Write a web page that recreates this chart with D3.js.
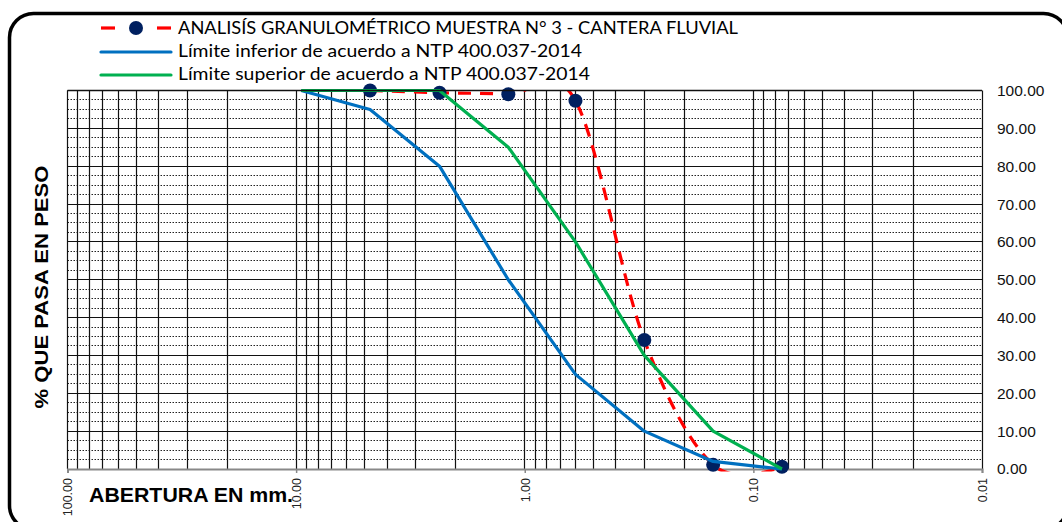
<!DOCTYPE html>
<html>
<head>
<meta charset="utf-8">
<script src="https://cdn.jsdelivr.net/npm/d3@7"></script>
<style>
  html, body { margin: 0; padding: 0; background: #fff; overflow: hidden; }
  svg { display: block; }
</style>
</head>
<body>
<svg id="chart" width="1062" height="522"></svg>
<script>
// ---- data ----
const sieveSizes = [9.5, 4.75, 2.36, 1.18, 0.6, 0.3, 0.15, 0.075];
const lowerLimit = [100, 95, 80, 50, 25, 10, 2, 0];
const upperLimit = [100, 100, 100, 85, 60, 30, 10, 0];
const sampleSizes = [4.75, 2.36, 1.18, 0.6, 0.3, 0.15, 0.075];
const samplePass = [100, 99.4, 99.0, 97.3, 34.1, 1.1, 0.6];
const xTickValues = [100, 10, 1, 0.1, 0.01];
const yTickValues = [0, 10, 20, 30, 40, 50, 60, 70, 80, 90, 100];
const legendLabels = [
  "ANALISÍS GRANULOMÉTRICO MUESTRA N° 3 - CANTERA FLUVIAL",
  "Límite inferior de acuerdo a NTP 400.037-2014",
  "Límite superior de acuerdo a NTP 400.037-2014"
];
const yTitle = "% QUE PASA EN PESO";
const xTitle = "ABERTURA EN mm.";

(function () {
// ---- layout ----
const svg = d3.select("#chart");
const pL = 67.5, pR = 982, pT = 90.5, pB = 469;
const x = d3.scaleLog().domain([100, 0.01]).range([pL, pR]);
const y = d3.scaleLinear().domain([0, 100]).range([pB, pT]);
const snap = v => Math.round(v - 0.5) + 0.5;

// outer rounded border (its right and bottom edges run past the picture)
svg.append("rect")
  .attr("x", 9.5).attr("y", 13.5).attr("width", 1058).attr("height", 516)
  .attr("rx", 24).attr("ry", 24)
  .attr("fill", "#fff").attr("stroke", "#000").attr("stroke-width", 3.5);

const grid = svg.append("g");
const minorY = d3.range(0, 100.01, 2.5).filter(v => v % 10 !== 0);
grid.selectAll(".hminor").data(minorY).join("line")
  .attr("x1", pL).attr("x2", pR)
  .attr("y1", d => snap(y(d))).attr("y2", d => snap(y(d)))
  .attr("stroke", "#222").attr("stroke-width", 1)
  .attr("stroke-dasharray", "1.5,1.5");
grid.selectAll(".hmajor").data(yTickValues.filter(v => v > 0)).join("line")
  .attr("x1", pL).attr("x2", pR)
  .attr("y1", d => snap(y(d))).attr("y2", d => snap(y(d)))
  .attr("stroke", "#111").attr("stroke-width", 1.2);
grid.selectAll(".v").data(x.ticks()).join("line")
  .attr("x1", d => snap(x(d))).attr("x2", d => snap(x(d)))
  .attr("y1", pT).attr("y2", pB)
  .attr("stroke", "#111").attr("stroke-width", 1.2);

// bottom axis (gray)
const xAxis = d3.axisBottom(x).tickValues(xTickValues).tickSize(4).tickFormat(d3.format(".2f"));
const gx = svg.append("g").attr("transform", `translate(0,${pB})`).call(xAxis);
gx.select(".domain").attr("stroke", "#888").attr("stroke-width", 2);
gx.selectAll(".tick line").attr("stroke", "#888").attr("stroke-width", 1.5);
gx.selectAll(".tick text")
  .attr("font-family", "Liberation Sans, Arial, sans-serif")
  .attr("font-size", 12.5).attr("fill", "#222")
  .attr("text-anchor", "end")
  .attr("dy", "0.35em")
  .attr("transform", "translate(0,9) rotate(-90)")
  .attr("x", 0).attr("y", 0);

// right axis labels
const yAxis = d3.axisRight(y).tickValues(yTickValues).tickSize(0).tickFormat(d3.format(".2f"));
const gy = svg.append("g").attr("transform", `translate(${pR},0)`).call(yAxis);
gy.select(".domain").remove();
gy.selectAll(".tick text")
  .attr("font-family", "Liberation Sans, Arial, sans-serif")
  .attr("font-size", 15.5).attr("fill", "#111")
  .attr("x", 15);

// ---- series ----
svg.append("clipPath").attr("id", "plotclip")
  .append("rect").attr("x", pL).attr("y", pT).attr("width", pR - pL).attr("height", 471.5 - pT);

const sampleData = sampleSizes.map((s, i) => [s, samplePass[i]]);
const lowerData = sieveSizes.map((s, i) => [s, lowerLimit[i]]);
const upperData = sieveSizes.map((s, i) => [s, upperLimit[i]]);

const smooth = d3.line().x(d => x(d[0])).y(d => y(d[1])).curve(d3.curveCatmullRom.alpha(0));
const straight = d3.line().x(d => x(d[0])).y(d => y(d[1]));

svg.append("path").datum(sampleData)
  .attr("clip-path", "url(#plotclip)")
  .attr("d", smooth)
  .attr("fill", "none").attr("stroke", "#ff0000").attr("stroke-width", 3.2)
  .attr("stroke-dasharray", "13,9");

svg.selectAll(".dot").data(sampleData).join("circle")
  .attr("cx", d => x(d[0])).attr("cy", d => y(d[1])).attr("r", 7)
  .attr("fill", "#002060");

svg.append("path").datum(lowerData)
  .attr("d", straight)
  .attr("fill", "none").attr("stroke", "#0070c0").attr("stroke-width", 3.2)
  .attr("stroke-linejoin", "round");

svg.append("path").datum(upperData)
  .attr("d", straight)
  .attr("fill", "none").attr("stroke", "#00b050").attr("stroke-width", 3.2)
  .attr("stroke-linejoin", "round");

svg.append("line").attr("x1", pL).attr("x2", pR).attr("y1", snap(pT)).attr("y2", snap(pT))
  .attr("stroke", "#111").attr("stroke-width", 1.4);

// ---- legend ----
const legY = [28, 52, 75];
const legTextY = [33.5, 57, 80];
const legWidths = [560, 404, 412];
const lg = svg.append("g");
lg.append("line").attr("x1", 101).attr("x2", 115).attr("y1", legY[0]).attr("y2", legY[0])
  .attr("stroke", "#ff0000").attr("stroke-width", 3.2);
lg.append("line").attr("x1", 157).attr("x2", 171).attr("y1", legY[0]).attr("y2", legY[0])
  .attr("stroke", "#ff0000").attr("stroke-width", 3.2);
lg.append("circle").attr("cx", 136).attr("cy", legY[0]).attr("r", 7).attr("fill", "#002060");
lg.append("line").attr("x1", 101).attr("x2", 171).attr("y1", legY[1]).attr("y2", legY[1])
  .attr("stroke", "#0070c0").attr("stroke-width", 3.2).attr("stroke-linecap", "round");
lg.append("line").attr("x1", 101).attr("x2", 171).attr("y1", legY[2]).attr("y2", legY[2])
  .attr("stroke", "#00b050").attr("stroke-width", 3.2).attr("stroke-linecap", "round");
lg.selectAll("text").data(legendLabels).join("text")
  .attr("x", 178).attr("y", (d, i) => legTextY[i])
  .attr("font-family", "Lato, 'Noto Sans', sans-serif")
  .attr("font-size", 17.5).attr("fill", "#000")
  .attr("textLength", (d, i) => legWidths[i]).attr("lengthAdjust", "spacingAndGlyphs")
  .text(d => d);

// ---- axis titles ----
svg.append("text")
  .attr("transform", "translate(48,287) rotate(-90)")
  .attr("text-anchor", "middle")
  .attr("font-family", "Liberation Sans, Arial, sans-serif")
  .attr("font-weight", "bold").attr("font-size", 19)
  .attr("textLength", 243).attr("lengthAdjust", "spacingAndGlyphs")
  .text(yTitle);

svg.append("text")
  .attr("x", 89).attr("y", 502)
  .attr("font-family", "Liberation Sans, Arial, sans-serif")
  .attr("font-weight", "bold").attr("font-size", 20)
  .attr("textLength", 204).attr("lengthAdjust", "spacingAndGlyphs")
  .text(xTitle);
})();
</script>
</body>
</html>
